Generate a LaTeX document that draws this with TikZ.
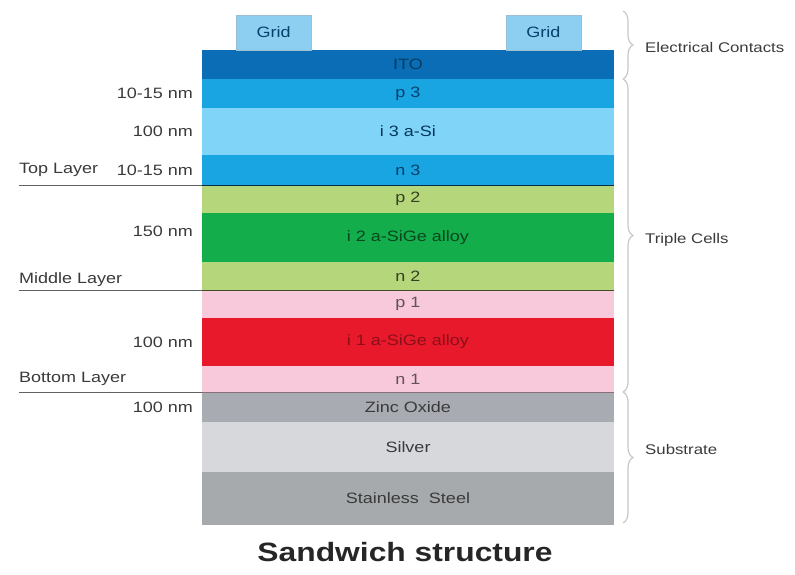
\documentclass[tikz,border=0pt]{standalone}
\usepackage{fontspec}
\setmainfont{Liberation Sans}[FakeStretch=1.2]
\usetikzlibrary{positioning,decorations.pathreplacing}
\definecolor{itoblue}{HTML}{0A6DB5}
\definecolor{pnblue}{HTML}{18A5E2}
\definecolor{iblue}{HTML}{80D4F8}
\definecolor{pngreen}{HTML}{B5D67A}
\definecolor{igreen}{HTML}{13AE4B}
\definecolor{pnpink}{HTML}{F7C9DB}
\definecolor{ired}{HTML}{E8192B}
\definecolor{zincgrey}{HTML}{A9ABB2}
\definecolor{silvergrey}{HTML}{D6D8DB}
\definecolor{steelgrey}{HTML}{A6AAAD}
\definecolor{gridblue}{HTML}{8DCFF0}
\definecolor{labgrey}{HTML}{3A3A3A}
\definecolor{bracegrey}{HTML}{C8C8C8}

\begin{document}
\begin{tikzpicture}[x=1pt, y=-1pt,
  every node/.style={font=\fontsize{15}{17}\selectfont, text=labgrey},
  layer/.style={minimum width=412pt, inner sep=0pt, outer sep=0pt,
    align=center, font=\fontsize{15}{17}\selectfont},
  gridbox/.style={draw=gridblue!80!black!70, fill=gridblue, minimum width=75pt,
    minimum height=35pt, inner sep=0pt, text=itoblue!60!black},
  dim/.style={inner sep=0pt},
  sidelab/.style={anchor=west, inner sep=0pt},
  grouplab/.style={anchor=west, inner sep=0pt, font=\fontsize{14}{16}\selectfont},
  sepline/.style={draw=labgrey!80, line width=1pt},
  brc/.style={draw=bracegrey, line width=1.2pt, decorate,
    decoration={brace, amplitude=10pt}}]
\useasboundingbox (0,0) rectangle (795,575);
% solar cell stack, top to bottom
\node[layer, fill=itoblue, minimum height=29pt, text=itoblue!55!black] (ito) at (408,64.5) {ITO};
\node[layer, fill=pnblue, minimum height=29pt, text=itoblue!60!black, below=0pt of ito] (p3) {p 3};
\node[layer, fill=iblue, minimum height=47pt, text=itoblue!50!black, below=0pt of p3] (i3) {i 3 a-Si};
\node[layer, fill=pnblue, minimum height=30pt, text=itoblue!60!black, below=0pt of i3] (n3) {n 3};
\node[layer, fill=pngreen, minimum height=28pt, text=pngreen!30!black, below=0pt of n3] (p2) {p 2};
\node[layer, fill=igreen, minimum height=49pt, text=igreen!40!black, below=0pt of p2] (i2) {i 2 a-SiGe alloy};
\node[layer, fill=pngreen, minimum height=28pt, text=pngreen!30!black, below=0pt of i2] (n2) {n 2};
\node[layer, fill=pnpink, minimum height=28pt, text=pnpink!40!black, below=0pt of n2] (p1) {p 1};
\node[layer, fill=ired, minimum height=48pt, text=ired!60!black, below=0pt of p1] (i1) {i 1 a-SiGe alloy};
\node[layer, fill=pnpink, minimum height=26pt, text=pnpink!40!black, below=0pt of i1] (n1) {n 1};
\node[layer, fill=zincgrey, minimum height=30pt, below=0pt of n1] (zno) {Zinc Oxide};
\node[layer, fill=silvergrey, minimum height=50pt, below=0pt of zno] (silver) {Silver};
\node[layer, fill=steelgrey, minimum height=53pt, below=0pt of silver] (steel) {Stainless\ \ Steel};
% contact grids
\node[gridbox, above right=0pt and 34pt of ito.north west] (gridl) {Grid};
\node[gridbox, above left=0pt and 33pt of ito.north east] (gridr) {Grid};
% thicknesses
\node[dim, left=9pt of p3] (d1) {10-15 nm};
\node[dim, left=9pt of i3] (d2) {100 nm};
\node[dim, left=9pt of n3] (d3) {10-15 nm};
\node[dim, left=9pt of i2, yshift=6pt] (d4) {150 nm};
\node[dim, left=9pt of i1] (d5) {100 nm};
\node[dim, left=9pt of zno] (d6) {100 nm};
% cell names and underlines
\coordinate (lx) at (19,0);
\node[sidelab] (toplayer) at (lx |- n3) {Top Layer};
\node[sidelab, yshift=-4pt] (midlayer) at (lx |- n2) {Middle Layer};
\node[sidelab] (botlayer) at (lx |- n1) {Bottom Layer};
\draw[sepline] (lx |- n3.south) -- (n3.south west);
\draw[sepline] (lx |- n2.south) -- (n2.south west);
\draw[sepline] (lx |- n1.south) -- (n1.south west);
\draw[line width=1pt, itoblue!40!black] (n3.south west) -- (n3.south east);
\draw[line width=1pt, pngreen!35!black] (n2.south west) -- (n2.south east);
\draw[line width=1pt, pnpink!55!black] (n1.south west) -- (n1.south east);
% groups on the right
\coordinate (bx) at (623,0);
\draw[brc] (bx |- 0,11) -- (bx |- ito.south);
\draw[brc] (bx |- ito.south) -- (bx |- n1.south);
\draw[brc] (bx |- n1.south) -- (bx |- 0,523);
\node[grouplab] (contacts) at (645,47) {Electrical Contacts};
\node[grouplab] (triple) at (645,240) {Triple Cells};
\node[grouplab] (substrate) at (645,449) {Substrate};
\node[font=\fontsize{26.5}{30}\selectfont\bfseries, text=black!85] (title) at (405,552) {Sandwich structure};
\end{tikzpicture}
\end{document}
